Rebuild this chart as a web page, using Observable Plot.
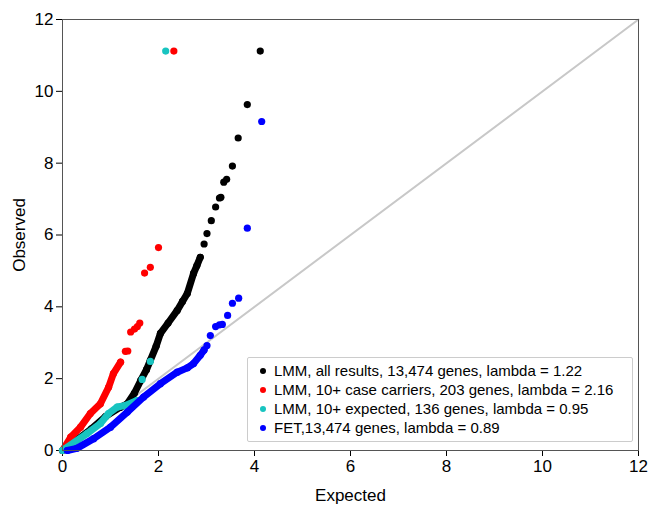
<!DOCTYPE html>
<html><head><meta charset="utf-8">
<script src="https://cdn.jsdelivr.net/npm/d3@7"></script>
<script src="https://cdn.jsdelivr.net/npm/@observablehq/plot@0.6"></script>
<style>
body{margin:0;background:#fff;font-family:"Liberation Sans",Arial,sans-serif}
#wrap{position:relative;width:651px;height:506px}
#legend{position:absolute;left:247px;top:357px;width:384px;border:1px solid #ccc;border-radius:2px;background:#fff;font-size:15px;padding:3px 0 4px 0}
#legend div{display:flex;align-items:center;height:19px;padding-left:12px}
#legend span.d{width:6px;height:6px;border-radius:50%;margin-right:8px;display:inline-block}
</style></head><body>
<div id="wrap"><div id="legend"></div></div>
<script>
const seriesNames = ["LMM, all results, 13,474 genes, lambda = 1.22",
  "LMM, 10+ case carriers, 203 genes, lambda = 2.16",
  "LMM, 10+ expected, 136 genes, lambda = 0.95",
  "FET,13,474 genes, lambda = 0.89"];
const seriesColors = ["#000000", "#ff0000", "#18c4c0", "#0000ff"];
// dense runs [expected, observed]
const blackDense = [[0,0],[0.3,0.3],[0.6,0.6],[0.9,0.95],[1.2,1.2],[1.35,1.3],[1.5,1.6],[1.63,1.95],[1.75,2.25],[1.83,2.51],[1.95,2.9],[2.04,3.26],[2.2,3.55],[2.39,3.9],[2.5,4.15],[2.6,4.37],[2.73,4.93],[2.8,5.15],[2.87,5.38]];
const blackSparse = [[2.95,5.75],[3.01,6.04],[3.1,6.4],[3.19,6.78],[3.27,7.03],[3.3,7.05],[3.36,7.47],[3.42,7.55],[3.54,7.92],[3.66,8.7],[3.85,9.63],[4.12,11.12]];
const redDense = [[0,0],[0.17,0.37],[0.375,0.65],[0.58,1.03],[0.79,1.3],[0.96,1.76],[1.06,2.14],[1.21,2.46]];
const redSparse = [[1.31,2.76],[1.36,2.77],[1.42,3.3],[1.5,3.38],[1.56,3.45],[1.61,3.55],[1.71,4.94],[1.83,5.1],[2.0,5.65],[2.32,11.12]];
const cyanDense = [[0,0],[0.51,0.47],[0.79,0.75],[0.96,1.03],[1.14,1.21],[1.3,1.25],[1.55,1.39]];
const cyanSparse = [[1.66,1.98],[1.83,2.48],[2.15,11.12]];
const blueDense = [[0.1,0],[0.3,0.06],[0.65,0.33],[1.0,0.65],[1.35,1.07],[1.69,1.49],[2.04,1.86],[2.39,2.18],[2.6,2.3],[2.73,2.42],[2.87,2.65],[2.95,2.8]];
const blueSparse = [[3.01,2.92],[3.08,3.2],[3.19,3.45],[3.27,3.5],[3.33,3.51],[3.44,3.76],[3.54,4.1],[3.67,4.24],[3.85,6.19],[4.15,9.16]];
const xTicks = [0,2,4,6,8,10,12];
const yTicks = [0,2,4,6,8,10,12];

const dense = [blackDense, redDense, cyanDense, blueDense];
const sparse = [blackSparse, redSparse, cyanSparse, blueSparse];
const marks = [
  Plot.line([[0,0],[12,12]], {x: d => d[0], y: d => d[1], stroke: "#c8c8c8", strokeWidth: 2})
];
dense.forEach((arr, i) => {
  marks.push(Plot.line(arr, {x: d => d[0], y: d => d[1], stroke: seriesColors[i], strokeWidth: 7, strokeLinecap: "round", strokeLinejoin: "round"}));
  marks.push(Plot.dot(arr, {x: d => d[0], y: d => d[1], r: 3.6, fill: seriesColors[i]}));
  marks.push(Plot.dot(sparse[i], {x: d => d[0], y: d => d[1], r: 3.6, fill: seriesColors[i]}));
});
marks.push(Plot.frame({stroke: "#555"}));

const chart = Plot.plot({
  width: 651, height: 506,
  marginLeft: 62, marginRight: 13, marginTop: 19, marginBottom: 56,
  style: {fontSize: "17px", fontFamily: "Liberation Sans, Arial, sans-serif", color: "#000"},
  x: {domain: [0, 12], ticks: xTicks, tickSize: 6, label: "Expected", labelAnchor: "center", labelOffset: 50, labelArrow: "none"},
  y: {domain: [0, 12], ticks: yTicks, tickSize: 6, label: "Observed", labelAnchor: "center", labelOffset: 50, labelArrow: "none"},
  marks
});
document.getElementById("wrap").prepend(chart);

const leg = document.getElementById("legend");
seriesNames.forEach((n, i) => {
  const row = document.createElement("div");
  row.innerHTML = `<span class="d" style="background:${seriesColors[i]}"></span>${n}`;
  leg.append(row);
});
</script>
</body></html>
